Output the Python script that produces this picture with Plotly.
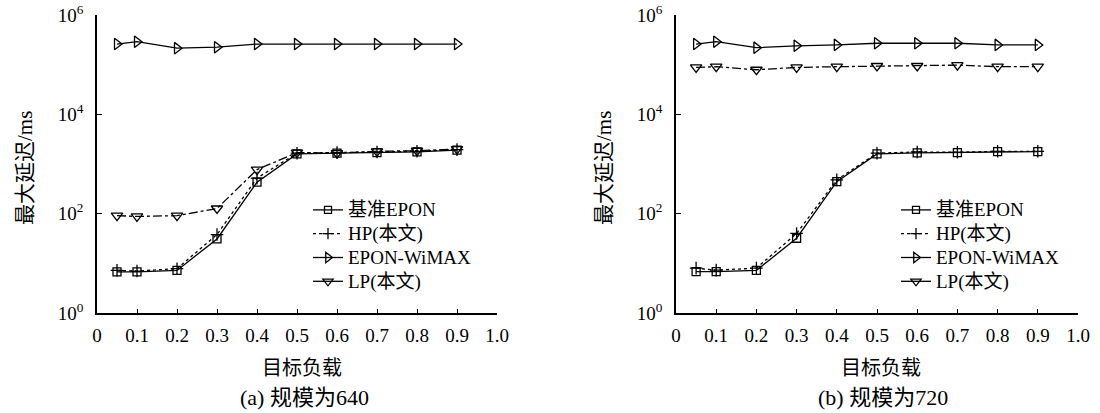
import plotly.graph_objects as go

loads = [0.05, 0.1, 0.2, 0.3, 0.4, 0.5, 0.6, 0.7, 0.8, 0.9]

# (a) scale 640
a_base = [6.7, 6.7, 7.2, 31, 430, 1600, 1650, 1700, 1750, 1900]
a_hp = [7.2, 7.0, 7.8, 38, 520, 1650, 1700, 1750, 1800, 1950]
a_wimax = [2.6e5, 2.9e5, 2.15e5, 2.25e5, 2.6e5, 2.6e5, 2.6e5, 2.6e5, 2.6e5, 2.6e5]
a_lp = [91, 88, 91, 127, 770, 1700, 1650, 1800, 1850, 2000]

# (b) scale 720
b_base = [6.8, 6.8, 7.2, 32, 440, 1600, 1680, 1700, 1780, 1780]
b_hp = [8.0, 7.3, 8.0, 40, 480, 1650, 1750, 1720, 1800, 1800]
b_wimax = [2.6e5, 2.9e5, 2.2e5, 2.4e5, 2.5e5, 2.7e5, 2.7e5, 2.7e5, 2.5e5, 2.5e5]
b_lp = [8.8e4, 9.1e4, 7.9e4, 8.8e4, 9.1e4, 9.4e4, 9.4e4, 9.8e4, 9.1e4, 9.1e4]

names = ["基准EPON", "HP(本文)", "EPON-WiMAX", "LP(本文)"]
x_ticks = [0, 0.1, 0.2, 0.3, 0.4, 0.5, 0.6, 0.7, 0.8, 0.9, 1.0]
x_tick_text = ["0", "0.1", "0.2", "0.3", "0.4", "0.5", "0.6", "0.7", "0.8", "0.9", "1.0"]
y_ticks = [1, 100, 1e4, 1e6]
y_tick_text = ["10<sup>0</sup>", "10<sup>2</sup>", "10<sup>4</sup>", "10<sup>6</sup>"]
x_title = "目标负载"
y_title = "最大延迟/ms"
captions = ["(a) 规模为640", "(b) 规模为720"]

FONT = "Liberation Serif, 'Times New Roman', 'Noto Sans CJK SC', serif"
W, H = 1100, 413

styles = [
    dict(dash="solid", symbol="square-open", size=8),
    dict(dash="dot", symbol="cross-thin-open", size=9),
    dict(dash="solid", symbol="triangle-right-open", size=10),
    dict(dash="dashdot", symbol="triangle-down-open", size=10),
]

fig = go.Figure()

panels = [
    (a_base, a_hp, a_wimax, a_lp),
    (b_base, b_hp, b_wimax, b_lp),
]

for p, series in enumerate(panels):
    xa = "x" if p == 0 else "x2"
    ya = "y" if p == 0 else "y2"
    lg = "legend" if p == 0 else "legend2"
    for i, (nm, vals) in enumerate(zip(names, series)):
        st = styles[i]
        fig.add_trace(go.Scatter(
            x=loads, y=vals, mode="lines+markers", name=nm,
            xaxis=xa, yaxis=ya, showlegend=False,
            line=dict(color="black", width=1.3, dash=st["dash"]),
            marker=dict(symbol=st["symbol"], size=st["size"], color="black",
                        line=dict(color="black", width=1.3)),
        ))
    # legend entries (legend samples drawn solid except HP, as in the reference)
    for i, nm in enumerate(names):
        st = styles[i]
        fig.add_trace(go.Scatter(
            x=[None], y=[None], mode="lines+markers",
            name='<span style="font-size:19px">' + nm + "</span>",
            xaxis=xa, yaxis=ya, legend=lg, legendgroup=f"{p}-{i}",
            line=dict(color="black", width=1.3, dash="dot" if i == 1 else "solid"),
            marker=dict(symbol=st["symbol"], size=st["size"] - 1, color="black",
                        line=dict(color="black", width=1.3)),
        ))

axis_common_x = dict(
    range=[0, 1.0], tickvals=x_ticks, ticktext=x_tick_text,
    ticks="inside", ticklen=4, tickwidth=1.2, tickcolor="black",
    showline=True, linecolor="black", linewidth=1.5, showgrid=False,
    zeroline=False, tickfont=dict(family=FONT, size=19, color="black"),
    ticklabelstandoff=4, automargin=False, ticklabeloverflow="allow",
)
axis_common_y = dict(
    type="log", range=[0, 6], tickvals=y_ticks, ticktext=y_tick_text,
    ticks="inside", ticklen=5, tickwidth=1.2, tickcolor="black",
    showline=True, linecolor="black", linewidth=1.5, showgrid=False,
    zeroline=False, tickfont=dict(family=FONT, size=19, color="black"),
    ticklabelstandoff=8, automargin=False, ticklabeloverflow="allow",
)

ydom = [1 - 313 / H, 1 - 15 / H]
fig.update_layout(
    width=W, height=H, autosize=False,
    margin=dict(l=0, r=0, t=0, b=0, pad=0, autoexpand=False),
    paper_bgcolor="white", plot_bgcolor="white",
    font=dict(family=FONT, color="black"),
    xaxis=dict(domain=[97 / W, 497 / W], anchor="y", **axis_common_x),
    yaxis=dict(domain=ydom, anchor="x", **axis_common_y),
    xaxis2=dict(domain=[676 / W, 1078 / W], anchor="y2", **axis_common_x),
    yaxis2=dict(domain=ydom, anchor="x2", **axis_common_y),
    legend=dict(x=308 / W, y=1 - 193 / H, xanchor="left", yanchor="top",
                bgcolor="rgba(0,0,0,0)", font=dict(family=FONT, size=16, color="black"),
                tracegroupgap=0, itemwidth=30),
    legend2=dict(x=896 / W, y=1 - 193 / H, xanchor="left", yanchor="top",
                 bgcolor="rgba(0,0,0,0)", font=dict(family=FONT, size=16, color="black"),
                 tracegroupgap=0, itemwidth=30),
    showlegend=True,
)

annots = []
for cx, yx in [(302, 25), (881, 604)]:
    annots.append(dict(text=x_title, x=cx / W, y=1 - 368 / H, xref="paper", yref="paper",
                       xanchor="center", yanchor="middle",
                       showarrow=False, font=dict(family=FONT, size=20, color="black")))
    annots.append(dict(text=y_title, x=yx / W, y=1 - 168 / H, xref="paper", yref="paper",
                       xanchor="center", yanchor="middle",
                       showarrow=False, textangle=-90,
                       font=dict(family=FONT, size=21, color="black")))
for cx, cap in zip([304, 883], captions):
    annots.append(dict(text=cap, x=cx / W, y=1 - 397 / H, xref="paper", yref="paper",
                       xanchor="center", yanchor="middle",
                       showarrow=False, font=dict(family=FONT, size=22, color="black")))
fig.update_layout(annotations=annots)

fig.write_html("out.html", config={"displayModeBar": False},
               post_script="document.body.style.margin='0';")
